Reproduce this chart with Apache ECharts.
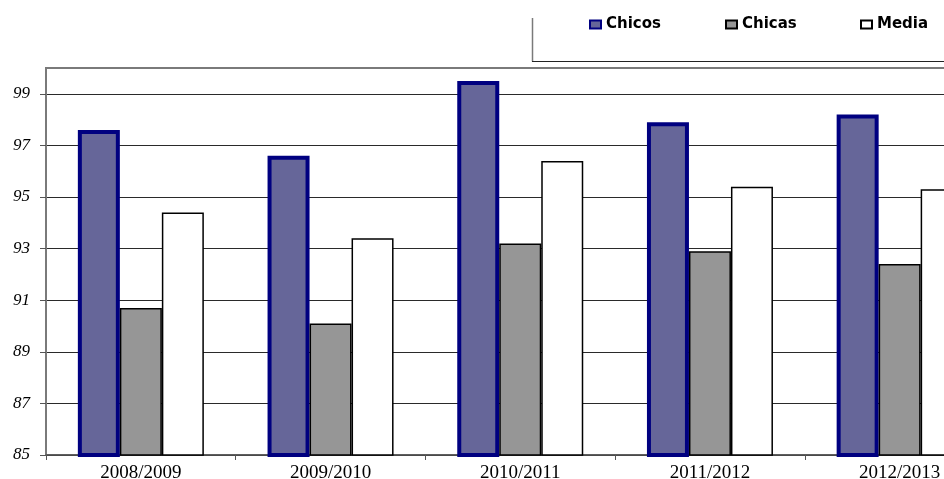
<!DOCTYPE html>
<html>
<head>
<meta charset="utf-8">
<script src="https://cdn.jsdelivr.net/npm/echarts@6/dist/echarts.min.js"></script>
<style>
  html, body { margin: 0; padding: 0; background: #fff; }
  #chart { width: 944px; height: 479px; }
</style>
</head>
<body>
<div id="chart"></div>
<script>
// School years and the three series (percentages)
const cursos = ['2008/2009', '2009/2010', '2010/2011', '2011/2012', '2012/2013'];
const chicos = [97.6, 96.6, 99.5, 97.9, 98.2];
const chicas = [90.7, 90.1, 93.2, 92.9, 92.4];
const media  = [94.4, 93.4, 96.4, 95.4, 95.3];
// Value-axis tick labels
const yTicks = [85, 87, 89, 91, 93, 95, 97, 99];

const chart = echarts.init(document.getElementById('chart'), null, { renderer: 'canvas' });

const legendText = { fontFamily: 'DejaVu Sans', fontWeight: 'bold', fontSize: 15, color: '#000' };
function legendFor(name, left) {
  return {
    data: [name], left: left, top: 17, padding: 0,
    icon: 'rect', itemWidth: 11, itemHeight: 8, itemGap: 5,
    textStyle: legendText, selectedMode: false
  };
}

chart.setOption({
  animation: false,
  backgroundColor: '#fff',
  legend: [legendFor('Chicos', 589), legendFor('Chicas', 725), legendFor('Media', 860)],
  graphic: [
    { type: 'line', shape: { x1: 532.5, y1: 18, x2: 532.5, y2: 61.5 }, style: { stroke: '#7a7a7a', lineWidth: 1.5 } },
    { type: 'line', shape: { x1: 532, y1: 61.5, x2: 944, y2: 61.5 }, style: { stroke: '#222', lineWidth: 1 } }
  ],
  grid: {
    left: 46, top: 68, width: 948.5, height: 387,
    outerBoundsMode: 'none', containLabel: false,
    show: true, borderColor: '#7a7a7a', borderWidth: 2, backgroundColor: 'transparent'
  },
  xAxis: {
    type: 'category',
    data: cursos,
    axisLine: { lineStyle: { color: '#555', width: 1.5 } },
    axisTick: { show: true, length: 5, lineStyle: { color: '#555' } },
    axisLabel: { fontFamily: 'Liberation Serif', fontSize: 19, color: '#000', margin: 9 }
  },
  yAxis: {
    type: 'value',
    min: 85, max: 100,
    axisLine: { show: true, lineStyle: { color: '#7a7a7a', width: 2 } },
    axisTick: { show: true, length: 6, customValues: yTicks, lineStyle: { color: '#555' } },
    axisLabel: {
      customValues: yTicks, margin: 16,
      fontFamily: 'Liberation Serif', fontStyle: 'italic', fontSize: 17, color: '#000'
    },
    splitLine: { show: true, lineStyle: { color: '#2a2a2a', width: 1 } }
  },
  series: [
    {
      name: 'Chicos', type: 'bar', data: chicos, barWidth: 42, barGap: '0%',
      itemStyle: { color: '#666699', borderColor: '#000080', borderWidth: 4 }
    },
    {
      name: 'Chicas', type: 'bar', data: chicas, barWidth: 42, barGap: '0%',
      itemStyle: { color: '#969696', borderColor: '#000', borderWidth: 1.5 }
    },
    {
      name: 'Media', type: 'bar', data: media, barWidth: 42, barGap: '0%',
      itemStyle: { color: '#ffffff', borderColor: '#000', borderWidth: 1.5 }
    }
  ]
});
</script>
</body>
</html>
